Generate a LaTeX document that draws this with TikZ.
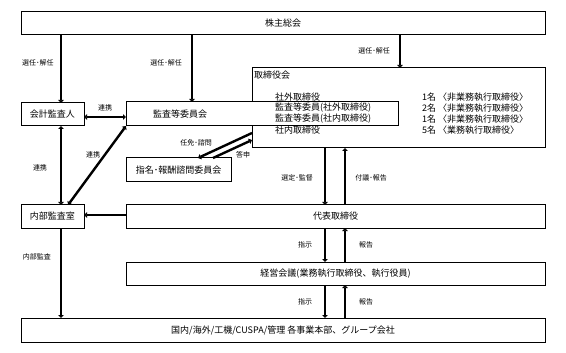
\documentclass[tikz,border=0pt]{standalone}
\usepackage{fontspec}
\setmainfont{Noto Sans CJK JP}
\usetikzlibrary{arrows.meta}
\begin{document}
\begin{tikzpicture}[x=1pt,y=-1pt,
  box/.style={draw, line width=1pt, fill=white, inner sep=0pt, outer sep=0pt, font=\fontsize{9}{11}\selectfont},
  lbl/.style={font=\fontsize{7}{8}\selectfont, inner sep=0pt},
  txt/.style={font=\fontsize{9}{11}\selectfont, inner sep=0pt, anchor=west},
  tip/.tip={Triangle[length=3pt,width=5.5pt]},
  arr/.style={line width=2.4pt, -tip},
  dbl/.style={line width=2.4pt, tip-tip}]
\useasboundingbox (0,0) rectangle (566,353);
% x positions for connectors
\coordinate (xa) at (61,0);
\coordinate (xb) at (192,0);
\coordinate (xc) at (400,0);
\coordinate (xd) at (68,0);
\coordinate (xdn) at (325,0);
\coordinate (xup) at (345,0);
\coordinate (xs1) at (198,0);
\coordinate (xs2) at (213,0);
\coordinate (yk) at (0,117);
\coordinate (yd) at (0,215);
\coordinate (yb1) at (0,133);
\coordinate (yb2) at (0,140);
% boxes
\node[box, minimum width=524pt, minimum height=23pt] (top) at (283,23.5) {株主総会};
\node[box, minimum width=293pt, minimum height=80pt] (board) at (398.5,108) {};
\node[box, minimum width=272pt, minimum height=24pt] (kansa) at (262,114) {};
\node[txt, anchor=center] (kansalbl) at (180,114) {監査等委員会};
\node[box, minimum width=63pt, minimum height=23pt] (kaikei) at (52.5,114.5) {会計監査人};
\node[box, minimum width=105pt, minimum height=24pt] (shimei) at (178.5,170) {指名･報酬諮問委員会};
\node[box, minimum width=63pt, minimum height=23pt] (naibu) at (52.5,216.5) {内部監査室};
\node[box, minimum width=419pt, minimum height=23pt] (daihyo) at (335.5,216.5) {代表取締役};
\node[box, minimum width=419pt, minimum height=23pt] (keiei) at (335.5,273.5) {経営会議(業務執行取締役、執行役員)};
\node[box, minimum width=524pt, minimum height=24pt] (bottom) at (283,330) {国内/海外/工機/CUSPA/管理\ 各事業本部、グループ会社};
% board contents
\node[txt] (bt) at (254,75) {取締役会};
\node[txt] (b1) at (275,97) {社外取締役};
\node[txt] (b2) at (275,108) {監査等委員(社外取締役)};
\node[txt] (b3) at (275,119) {監査等委員(社内取締役)};
\node[txt] (b4) at (275,130) {社内取締役};
\node[txt] (c1) at (422,97) {1名\ 〈非業務執行取締役〉};
\node[txt] (c2) at (422,108) {2名\ 〈非業務執行取締役〉};
\node[txt] (c3) at (422,119) {1名\ 〈非業務執行取締役〉};
\node[txt] (c4) at (422,130) {5名\ 〈業務執行取締役〉};
% connectors
\draw[arr] (top.south -| xa) -- (kaikei.north -| xa);
\draw[arr] (top.south -| xb) -- (kansa.north -| xb);
\draw[arr] (top.south -| xc) -- (board.north -| xc);
\draw[dbl] (kaikei.east |- yk) -- (kansa.west |- yk);
\draw[dbl] (kaikei.south -| xa) -- (naibu.north -| xa);
\draw[dbl] (naibu.north -| xd) -- (kansa.south west);
\draw[arr] (board.west |- yb1) -- (shimei.north -| xs1);
\draw[arr] (shimei.north -| xs2) -- (board.west |- yb2);
\draw[arr] (board.south -| xdn) -- (daihyo.north -| xdn);
\draw[arr] (daihyo.north -| xup) -- (board.south -| xup);
\draw[arr] (daihyo.west |- yd) -- (naibu.east |- yd);
\draw[arr] (naibu.south -| xa) -- (bottom.north -| xa);
\draw[arr] (daihyo.south -| xdn) -- (keiei.north -| xdn);
\draw[arr] (keiei.north -| xup) -- (daihyo.south -| xup);
\draw[arr] (keiei.south -| xdn) -- (bottom.north -| xdn);
\draw[arr] (bottom.north -| xup) -- (keiei.south -| xup);
% labels
\node[lbl] (l1) at (38,63) {選任･解任};
\node[lbl] (l2) at (166,63) {選任･解任};
\node[lbl] (l3) at (374,51) {選任･解任};
\node[lbl] (l4) at (105,108) {連携};
\node[lbl] (l5) at (40,168) {連携};
\node[lbl] (l6) at (93,155) {連携};
\node[lbl] (l7) at (196,143) {任免･諮問};
\node[lbl] (l8) at (243,155) {答申};
\node[lbl] (l9) at (297,178) {選定･監督};
\node[lbl] (l10) at (371,178) {付議･報告};
\node[lbl] (l11) at (305,245) {指示};
\node[lbl] (l12) at (366,245) {報告};
\node[lbl] (l13) at (305,302) {指示};
\node[lbl] (l14) at (366,302) {報告};
\node[lbl] (l15) at (37,257) {内部監査};
\end{tikzpicture}
\end{document}
